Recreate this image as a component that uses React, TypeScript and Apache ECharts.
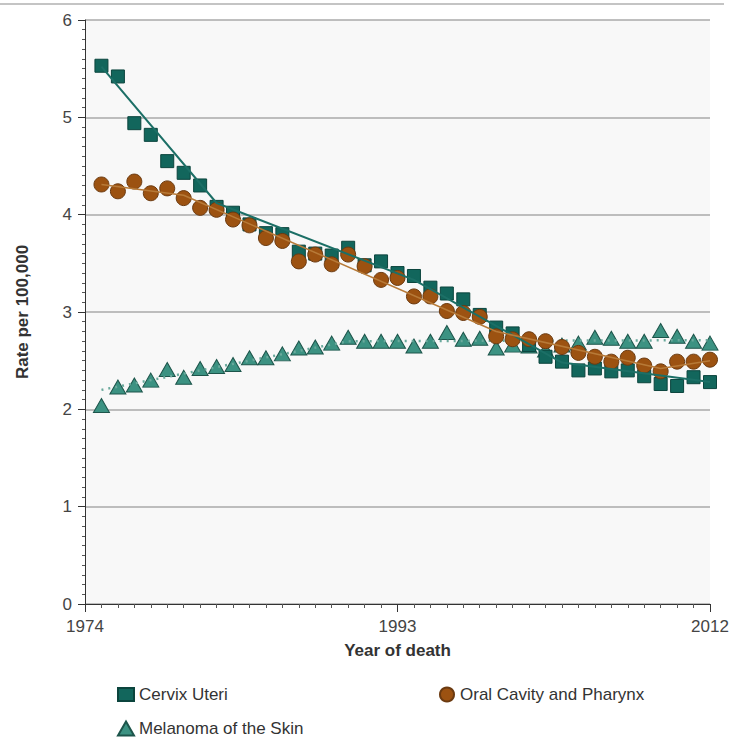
import React, { useEffect, useRef } from "react";
import * as echarts from "echarts";

const years = [
  1975, 1976, 1977, 1978, 1979, 1980, 1981, 1982, 1983, 1984,
  1985, 1986, 1987, 1988, 1989, 1990, 1991, 1992, 1993, 1994,
  1995, 1996, 1997, 1998, 1999, 2000, 2001, 2002, 2003, 2004,
  2005, 2006, 2007, 2008, 2009, 2010, 2011, 2012,
];

const cervix = [
  5.53, 5.42, 4.94, 4.82, 4.55, 4.43, 4.30, 4.08, 4.02, 3.90,
  3.81, 3.80, 3.62, 3.60, 3.58, 3.66, 3.48, 3.52, 3.40, 3.37,
  3.25, 3.19, 3.13, 2.97, 2.84, 2.78, 2.66, 2.54, 2.49, 2.40,
  2.42, 2.39, 2.40, 2.34, 2.26, 2.24, 2.33, 2.28,
];

const oral = [
  4.31, 4.24, 4.34, 4.22, 4.27, 4.17, 4.07, 4.05, 3.95, 3.89,
  3.76, 3.73, 3.52, 3.59, 3.49, 3.59, 3.47, 3.33, 3.35, 3.16,
  3.16, 3.01, 2.99, 2.95, 2.75, 2.72, 2.72, 2.70, 2.64, 2.58,
  2.54, 2.49, 2.53, 2.45, 2.39, 2.49, 2.49, 2.51,
];

const melanoma = [
  2.04, 2.23, 2.25, 2.30, 2.41, 2.33, 2.42, 2.44, 2.46, 2.53,
  2.53, 2.57, 2.63, 2.64, 2.68, 2.74, 2.70, 2.70, 2.70, 2.65,
  2.70, 2.79, 2.72, 2.73, 2.63, 2.66, 2.65, 2.61, 2.66, 2.68,
  2.74, 2.73, 2.70, 2.70, 2.81, 2.75, 2.70, 2.68,
];

// fitted trend lines (joinpoints)
const cervixTrendYears = [1975, 1982, 1994, 2003, 2012];
const cervixTrend = [5.52, 4.12, 3.33, 2.48, 2.28];
const oralTrendYears = [1975, 1980, 1999, 2009, 2012];
const oralTrend = [4.31, 4.2, 2.8, 2.42, 2.5];
const melanomaTrendYears = [1975, 1990, 2012];
const melanomaTrend = [2.2, 2.7, 2.71];

const xTickLabels = [1974, 1993, 2012];

const FONT = "Liberation Sans, Arial, Helvetica, sans-serif";

const pairs = (xs: number[], ys: number[]) => xs.map((x, i) => [x, ys[i]]);

export default function App() {
  const ref = useRef<HTMLDivElement>(null);
  useEffect(() => {
    if (!ref.current) return;
    const chart = echarts.init(ref.current, undefined, { renderer: "svg" });
    const legendText = { fontFamily: FONT, fontSize: 17, color: "#333" };
    chart.setOption({
      animation: false,
      backgroundColor: "#ffffff",
      grid: {
        left: 85,
        right: 22,
        top: 20,
        bottom: 136,
        show: true,
        backgroundColor: "#f8f8f8",
        borderWidth: 0,
      },
      graphic: [
        {
          type: "line",
          shape: { x1: 0, y1: 4, x2: 724, y2: 4 },
          style: { stroke: "#c4c4c4", lineWidth: 2 },
        },
      ],
      legend: [
        {
          data: ["Cervix Uteri"],
          left: 112,
          top: 681,
          itemWidth: 16,
          itemHeight: 13,
          textStyle: legendText,
        },
        {
          data: ["Oral Cavity and Pharynx"],
          left: 434,
          top: 681,
          itemWidth: 16,
          itemHeight: 14,
          textStyle: legendText,
        },
        {
          data: ["Melanoma of the Skin"],
          left: 112,
          top: 715,
          itemWidth: 16,
          itemHeight: 14,
          textStyle: legendText,
        },
      ],
      xAxis: {
        type: "value",
        min: 1974,
        max: 2012,
        interval: 19,
        name: "Year of death",
        nameLocation: "middle",
        nameGap: 38,
        nameTextStyle: { fontFamily: FONT, fontSize: 17, fontWeight: "bold", color: "#333" },
        axisLine: { show: true, lineStyle: { color: "#333", width: 1 } },
        axisTick: { show: true, length: 8, lineStyle: { color: "#333" } },
        minorTick: { show: true, splitNumber: 19, length: 4, lineStyle: { color: "#555" } },
        splitLine: { show: false },
        axisLabel: {
          fontFamily: FONT,
          fontSize: 17,
          color: "#444",
          margin: 14,
          formatter: (v: number) => (xTickLabels.includes(v) ? String(v) : ""),
        },
      },
      yAxis: {
        type: "value",
        min: 0,
        max: 6,
        interval: 1,
        name: "Rate per 100,000",
        nameLocation: "middle",
        nameGap: 54,
        nameTextStyle: { fontFamily: FONT, fontSize: 17, fontWeight: "bold", color: "#333" },
        axisLine: { show: true, lineStyle: { color: "#333", width: 1 } },
        axisTick: { show: true, length: 7, lineStyle: { color: "#333" } },
        minorTick: { show: true, splitNumber: 10, length: 3, lineStyle: { color: "#555" } },
        splitLine: { show: true, lineStyle: { color: "#aaaaaa", width: 1.5 } },
        axisLabel: { fontFamily: FONT, fontSize: 17, color: "#444", margin: 13 },
      },
      series: [
        {
          name: "Melanoma of the Skin",
          type: "scatter",
          symbol: "triangle",
          symbolSize: [16, 14],
          itemStyle: { color: "#3c9282", borderColor: "#1d554b", borderWidth: 1, opacity: 1 },
          data: pairs(years, melanoma),
          z: 3,
        },
        {
          name: "melanomaTrend",
          type: "line",
          showSymbol: false,
          symbol: "none",
          lineStyle: { color: "#6aa99c", width: 2.5, type: [2, 5] },
          data: pairs(melanomaTrendYears, melanomaTrend),
          z: 4,
        },
        {
          name: "Cervix Uteri",
          type: "scatter",
          symbol: "rect",
          symbolSize: 13,
          itemStyle: { color: "#12665c", borderColor: "#0b443d", borderWidth: 1, opacity: 1 },
          data: pairs(years, cervix),
          z: 5,
        },
        {
          name: "Oral Cavity and Pharynx",
          type: "scatter",
          symbol: "circle",
          symbolSize: 15,
          itemStyle: { color: "#9c5211", borderColor: "#6b3a10", borderWidth: 1, opacity: 1 },
          data: pairs(years, oral),
          z: 6,
        },
        {
          name: "cervixTrend",
          type: "line",
          showSymbol: false,
          symbol: "none",
          lineStyle: { color: "#1c6f66", width: 2 },
          data: pairs(cervixTrendYears, cervixTrend),
          z: 7,
        },
        {
          name: "oralTrend",
          type: "line",
          showSymbol: false,
          symbol: "none",
          lineStyle: { color: "#b77a38", width: 1.5 },
          data: pairs(oralTrendYears, oralTrend),
          z: 7,
        },
      ],
    });
    return () => chart.dispose();
  }, []);
  return (
    <div
      ref={ref}
      style={{ position: "fixed", left: 0, top: 0, width: 732, height: 740, background: "#fff" }}
    />
  );
}
